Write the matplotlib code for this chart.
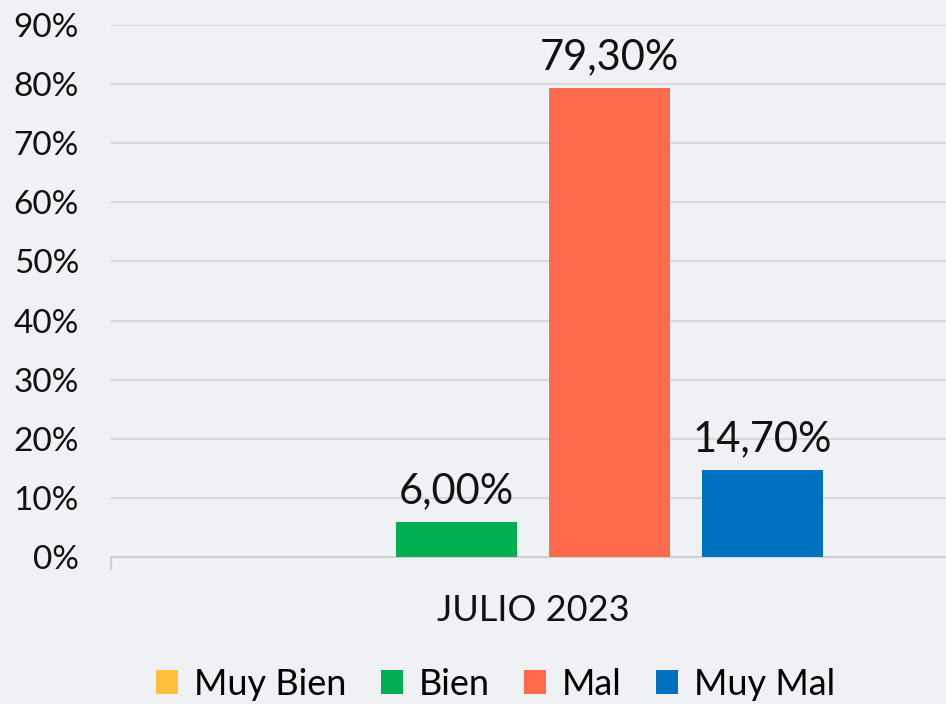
import matplotlib.pyplot as plt
from matplotlib.patches import Patch

categorias = ['Muy Bien', 'Bien', 'Mal', 'Muy Mal']
valores = [0.0, 6.00, 79.30, 14.70]
colores = ['#FFC13B', '#00B050', '#FF6A4D', '#0070C0']
periodo = 'JULIO 2023'
yticks = [0, 10, 20, 30, 40, 50, 60, 70, 80, 90]

plt.rcParams['font.family'] = ['Lato', 'DejaVu Sans']
fondo = '#f0f1f5'

fig = plt.figure(figsize=(9.46, 7.04), dpi=100, facecolor=fondo)
ax = fig.add_axes([0.1173, 0.2088, 0.892, 0.7557], facecolor=fondo)

ancho = 0.1434
paso = 0.1813
for i, (cat, val, col) in enumerate(zip(categorias, valores, colores)):
    x = 0.5 + (i - 1.5) * paso
    ax.bar(x, val, width=ancho, color=col, zorder=3)
    if val > 0:
        ax.text(x, val + 2.0, f'{val:.2f}%'.replace('.', ','), ha='center', va='bottom',
                fontsize=30, color='#111111')

ax.set_xlim(0, 1)
ax.set_ylim(0, 90)
ax.set_yticks(yticks)
ax.set_yticklabels([f'{t}%' for t in yticks], fontsize=24, color='#111111')
ax.yaxis.grid(True, color='#d9d9d9', linewidth=1.5, zorder=0)
ax.tick_params(axis='y', length=0, pad=23)

ax.set_xticks([0, 1])
ax.set_xticklabels(['', ''])
ax.tick_params(axis='x', length=9, width=1.5, color='#d0d0d0')
ax.text(0.5, -9, periodo, ha='center', va='center', fontsize=26, color='#111111')

for s in ['top', 'right', 'left']:
    ax.spines[s].set_visible(False)
ax.spines['bottom'].set_color('#d0d0d0')
ax.spines['bottom'].set_linewidth(1.5)

handles = [Patch(facecolor=c, edgecolor='none') for c in colores]
fig.legend(handles, categorias, loc='center', bbox_to_anchor=(0.524, 0.028), ncol=4,
           frameon=False, fontsize=26, handlelength=0.6, handleheight=0.65,
           handletextpad=0.45, columnspacing=0.95)

fig.savefig('out.png', dpi=100, facecolor=fondo)
